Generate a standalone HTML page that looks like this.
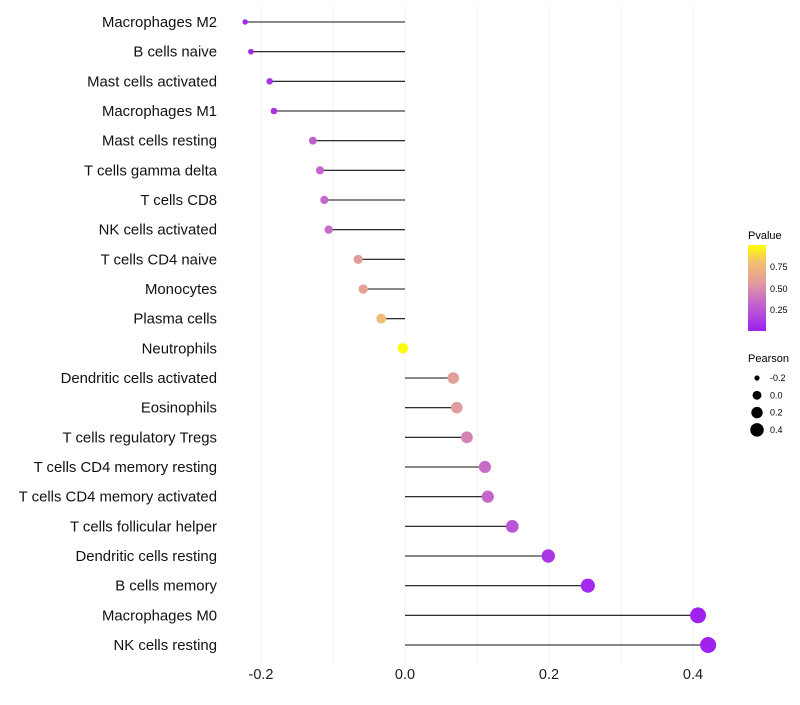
<!DOCTYPE html>
<html><head><meta charset="utf-8"><style>
body{margin:0;background:#fff;}
svg{font-family:"Liberation Sans",sans-serif;}
</style></head><body>
<svg id="chart" width="800" height="700">
<defs><linearGradient id="pg" x1="0" y1="1" x2="0" y2="0">
<stop offset="0" stop-color="#a020f0"/><stop offset="0.3" stop-color="#c060d0"/><stop offset="0.55" stop-color="#e09aa0"/><stop offset="0.8" stop-color="#f2c070"/><stop offset="1" stop-color="#ffff00"/></linearGradient></defs>
<g id="grid"></g>
<g id="marks"></g>
<g id="labels"></g>
<g id="xt"></g>
<g>
<text x="748" y="239" font-size="11">Pvalue</text>
<rect x="748" y="245" width="18" height="86" fill="url(#pg)"/>
<text x="770" y="270" font-size="9">0.75</text>
<text x="770" y="292" font-size="9">0.50</text>
<text x="770" y="313" font-size="9">0.25</text>
</g>
<g id="sl">
<text x="748" y="362" font-size="11">Pearson</text>
</g>
</svg>
<script>
const categories=["Macrophages M2","B cells naive","Mast cells activated","Macrophages M1","Mast cells resting","T cells gamma delta","T cells CD8","NK cells activated","T cells CD4 naive","Monocytes","Plasma cells","Neutrophils","Dendritic cells activated","Eosinophils","T cells regulatory  Tregs ","T cells CD4 memory resting","T cells CD4 memory activated","T cells follicular helper","Dendritic cells resting","B cells memory","Macrophages M0","NK cells resting"];
const pearson=[-0.222,-0.214,-0.188,-0.182,-0.128,-0.118,-0.112,-0.106,-0.065,-0.058,-0.033,-0.003,0.067,0.072,0.086,0.111,0.115,0.149,0.199,0.254,0.407,0.421];
const pvalue=[0.03,0.04,0.08,0.09,0.3,0.32,0.33,0.35,0.58,0.6,0.78,0.98,0.58,0.56,0.45,0.35,0.33,0.25,0.1,0.04,0.01,0.01];
const xTicks=[-0.2,0,0.2,0.4];
const sizeTicks=[-0.2,0,0.2,0.4];
const NS="http://www.w3.org/2000/svg";
const xs=v=>405+v*720;
const ys=i=>22+i*(623/21);
function rad(v){const a=-0.25,b=0.45,r0=2.2,r1=8.2;const t=Math.max(0,(v-a)/(b-a));return Math.sqrt(r0*r0+t*(r1*r1-r0*r0));}
const stops=[[0,[160,32,240]],[0.3,[192,96,208]],[0.55,[224,154,160]],[0.8,[242,192,112]],[1,[255,255,0]]];
function col(p){for(let i=1;i<stops.length;i++){if(p<=stops[i][0]){const[a,ca]=stops[i-1],[b,cb]=stops[i];const t=(p-a)/(b-a);return"rgb("+ca.map((c,k)=>Math.round(c+(cb[k]-c)*t)).join(",")+")";}}return"rgb(255,255,0)";}
function mk(tag,at,parent){const e=document.createElementNS(NS,tag);for(const k in at)e.setAttribute(k,at[k]);parent.appendChild(e);return e;}
const grid=document.getElementById("grid"),marks=document.getElementById("marks"),labels=document.getElementById("labels"),xt=document.getElementById("xt"),sl=document.getElementById("sl");
for(let v=-0.2;v<=0.41;v+=0.1){const l=mk("line",{x1:xs(v),x2:xs(v),y1:5,y2:662,stroke:"#f0f0f0","stroke-width":1},grid);

}
xTicks.forEach(v=>{const t=mk("text",{x:xs(v),y:679,"font-size":14.5,"text-anchor":"middle",fill:"#1a1a1a"},xt);t.textContent=v===0?"0.0":v.toFixed(1);

});
categories.forEach((c,i)=>{const y=ys(i);
const t=mk("text",{x:217,y:y+5,"font-size":14.9,"text-anchor":"end",fill:"#111"},labels);t.textContent=c;


const l=mk("line",{x1:xs(0),x2:xs(pearson[i]),y1:y,y2:y,stroke:"#111","stroke-width":1.1},marks);


const d=mk("circle",{cx:xs(pearson[i]),cy:y,r:rad(pearson[i]),fill:col(pvalue[i])},marks);

});
sizeTicks.forEach((v,i)=>{const y=378+i*17.3;
const d=mk("circle",{cx:757,cy:y,r:rad(v)*0.85,fill:"#000"},sl);


const t=mk("text",{x:770,y:y+3,"font-size":9},sl);t.textContent=v===0?"0.0":v.toFixed(1);

});
</script>
</body></html>
